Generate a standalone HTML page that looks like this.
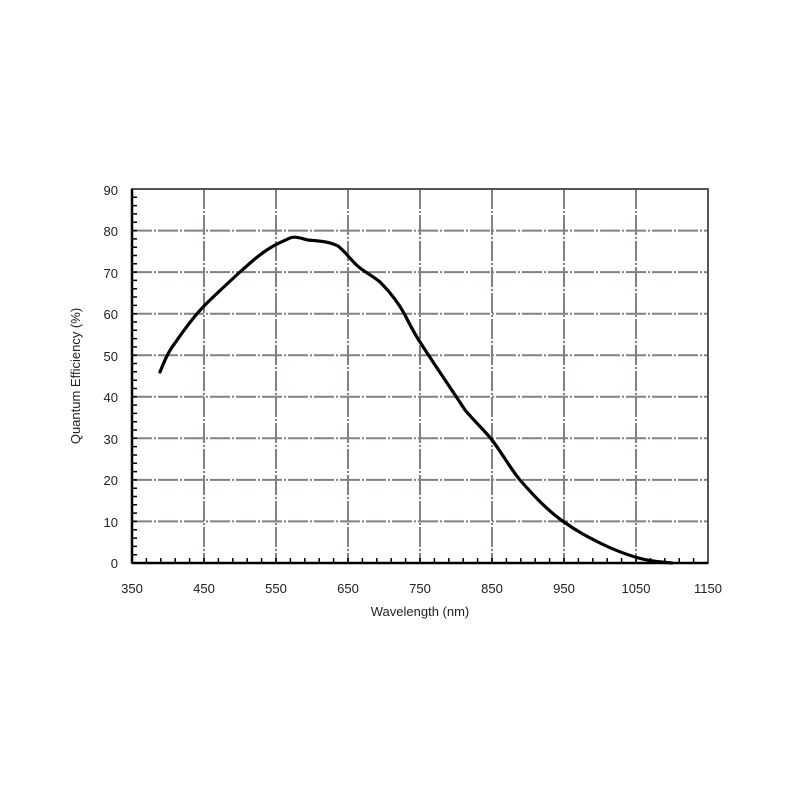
<!DOCTYPE html>
<html><head><style>body{margin:0;background:#fff}svg{display:block}</style></head><body>
<svg width="800" height="800" xmlns="http://www.w3.org/2000/svg" font-family="Liberation Sans, sans-serif">
<rect width="800" height="800" fill="#fff"/>
<g stroke="#7a8580" stroke-width="2" stroke-dasharray="20,2,2,2">
<line x1="132" y1="230.6" x2="708" y2="230.6"/><line x1="132" y1="272.1" x2="708" y2="272.1"/>
<line x1="132" y1="313.7" x2="708" y2="313.7"/><line x1="132" y1="355.2" x2="708" y2="355.2"/>
<line x1="132" y1="396.8" x2="708" y2="396.8"/><line x1="132" y1="438.3" x2="708" y2="438.3"/>
<line x1="132" y1="479.9" x2="708" y2="479.9"/><line x1="132" y1="521.4" x2="708" y2="521.4"/>
<line x1="204" y1="189" x2="204" y2="563"/><line x1="276" y1="189" x2="276" y2="563"/>
<line x1="348" y1="189" x2="348" y2="563"/><line x1="420" y1="189" x2="420" y2="563"/>
<line x1="492" y1="189" x2="492" y2="563"/><line x1="564" y1="189" x2="564" y2="563"/>
<line x1="636" y1="189" x2="636" y2="563"/>
</g>
<rect x="132" y="189" width="576" height="374" fill="none" stroke="#555" stroke-width="2"/>
<line x1="132" y1="189" x2="132" y2="563" stroke="#000" stroke-width="2.5"/>
<line x1="132" y1="563" x2="708" y2="563" stroke="#000" stroke-width="2.5"/>
<path stroke="#000" stroke-width="1.5" fill="none" d="
M132,554.7h5M132,546.4h5M132,538.1h5M132,529.8h5M132,521.4h5M132,513.1h5M132,504.8h5M132,496.5h5M132,488.2h5M132,479.9h5M132,471.6h5M132,463.3h5M132,455h5M132,446.6h5M132,438.3h5M132,430h5M132,421.7h5M132,413.4h5M132,405.1h5M132,396.8h5M132,388.5h5M132,380.2h5M132,371.8h5M132,363.5h5M132,355.2h5M132,346.9h5M132,338.6h5M132,330.3h5M132,322h5M132,313.7h5M132,305.4h5M132,297h5M132,288.7h5M132,280.4h5M132,272.1h5M132,263.8h5M132,255.5h5M132,247.2h5M132,238.9h5M132,230.6h5M132,222.2h5M132,213.9h5M132,205.6h5M132,197.3h5
M146.4,563v-5M160.8,563v-5M175.2,563v-5M189.6,563v-5M204,563v-5M218.4,563v-5M232.8,563v-5M247.2,563v-5M261.6,563v-5M276,563v-5M290.4,563v-5M304.8,563v-5M319.2,563v-5M333.6,563v-5M348,563v-5M362.4,563v-5M376.8,563v-5M391.2,563v-5M405.6,563v-5M420,563v-5M434.4,563v-5M448.8,563v-5M463.2,563v-5M477.6,563v-5M492,563v-5M506.4,563v-5M520.8,563v-5M535.2,563v-5M549.6,563v-5M564,563v-5M578.4,563v-5M592.8,563v-5M607.2,563v-5M621.6,563v-5M636,563v-5M650.4,563v-5M664.8,563v-5M679.2,563v-5M693.6,563v-5"/>
<path d="M160,372 C164,362 168,352 175,343 C184,330 194,316 205,305 C216,294 228,283 240,272 C250,263 260,254 270,248 C278,243 284,241 290,238 C295,236 300,238 308,240 C318,241 328,241 338,246 C346,252 352,262 360,268 C368,274 374,277 380,282 C390,292 398,302 405,315 C411,327 416,336 420,342 C434,364 452,390 465,410 C476,423 486,432 492,440 C502,453 510,468 520,480 C534,496 548,511 564,522 C578,532 590,538 600,543 C612,549 622,553 635,557 C648,561 660,562 672,563"
 fill="none" stroke="#000" stroke-width="3.2" stroke-linejoin="round" stroke-linecap="round"/>
<g font-size="13" fill="#222" text-anchor="end">
<text x="118" y="195">90</text><text x="118" y="236">80</text><text x="118" y="278">70</text>
<text x="118" y="319">60</text><text x="118" y="361">50</text><text x="118" y="402">40</text>
<text x="118" y="444">30</text><text x="118" y="485">20</text><text x="118" y="527">10</text>
<text x="118" y="568">0</text></g>
<g font-size="13" fill="#222" text-anchor="middle">
<text x="132" y="593">350</text><text x="204" y="593">450</text><text x="276" y="593">550</text>
<text x="348" y="593">650</text><text x="420" y="593">750</text><text x="492" y="593">850</text>
<text x="564" y="593">950</text><text x="636" y="593">1050</text><text x="708" y="593">1150</text>
<text x="420" y="616">Wavelength (nm)</text></g>
<text transform="translate(80,376) rotate(-90)" font-size="13" fill="#222" text-anchor="middle">Quantum Efficiency (%)</text>
</svg>
</body></html>
